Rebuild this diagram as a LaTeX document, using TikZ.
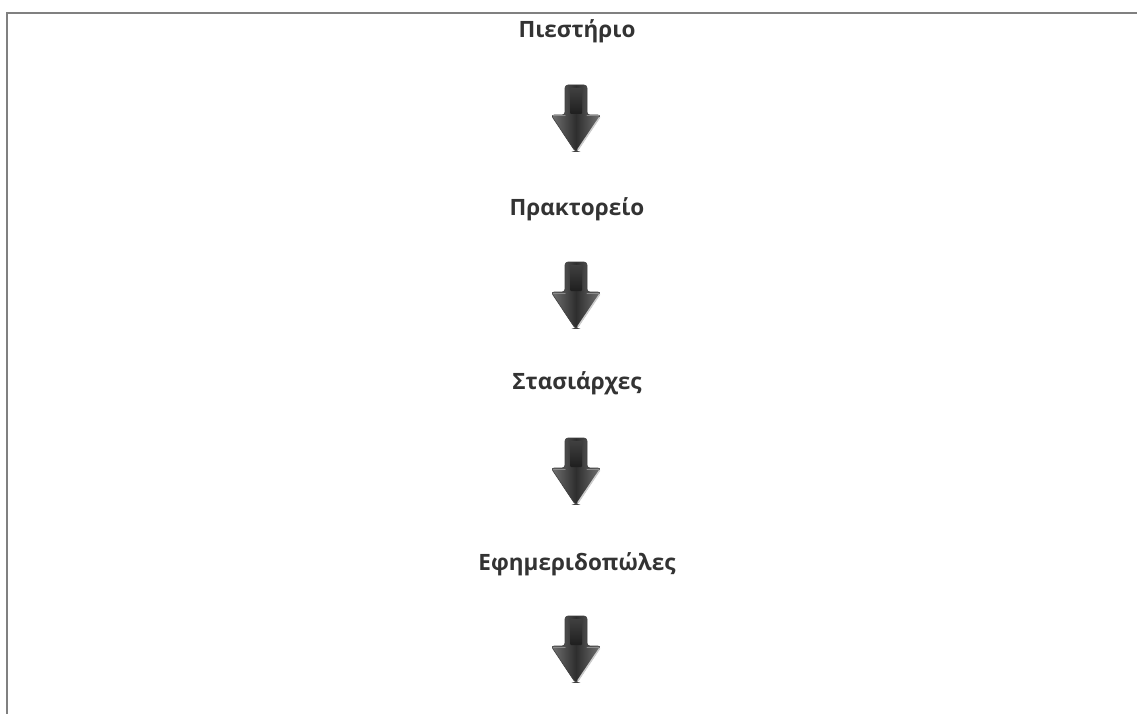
\documentclass[tikz,border=0pt]{standalone}
\usepackage{fontspec}
\setmainfont{Open Sans}
\begin{document}
\begin{tikzpicture}[x=1pt,y=-1pt,
  label/.style={font=\bfseries\fontsize{22.5}{26}\selectfont, text=black!80, inner sep=0pt, anchor=base},
  frame/.style={draw=black!50, line width=2pt},
  downarrow/.pic={
    \shade[left color=black!55, right color=black!55, middle color=black!82, rounded corners=3pt, draw=black!75, line width=0.6pt]
      (-25,30) -- (-11,30) -- (-11,0) -- (11,0) -- (11,30) -- (25,30) -- (0.8,66.5) -- (-0.8,66.5) -- cycle;
    \shade[top color=black!75, bottom color=black!88, rounded corners=1pt] (-6,3) rectangle (6,29);
    \draw[white!80!black, line width=1.5pt, line cap=round] (23.5,32.5) -- (2,64.5);
    \draw[black!45, line width=1pt, line cap=round] (-23,31) -- (-11,31);
    \draw[black!45, line width=1pt, line cap=round] (11,31) -- (23,31);
  }]
\useasboundingbox (0,0) rectangle (1137,714);
\draw[frame] (1137,13) -- (7,13) -- (7,714);
\node[label] (n1) at (577,38) {Πιεστήριο};
\node[label] (n2) at (577,215) {Πρακτορείο};
\node[label] (n3) at (577,389) {Στασιάρχες};
\node[label] (n4) at (577,570) {Εφημεριδοπώλες};
\pic at (576,85) {downarrow};
\pic at (576,262) {downarrow};
\pic at (576,438) {downarrow};
\pic at (576,616) {downarrow};
\end{tikzpicture}
\end{document}
